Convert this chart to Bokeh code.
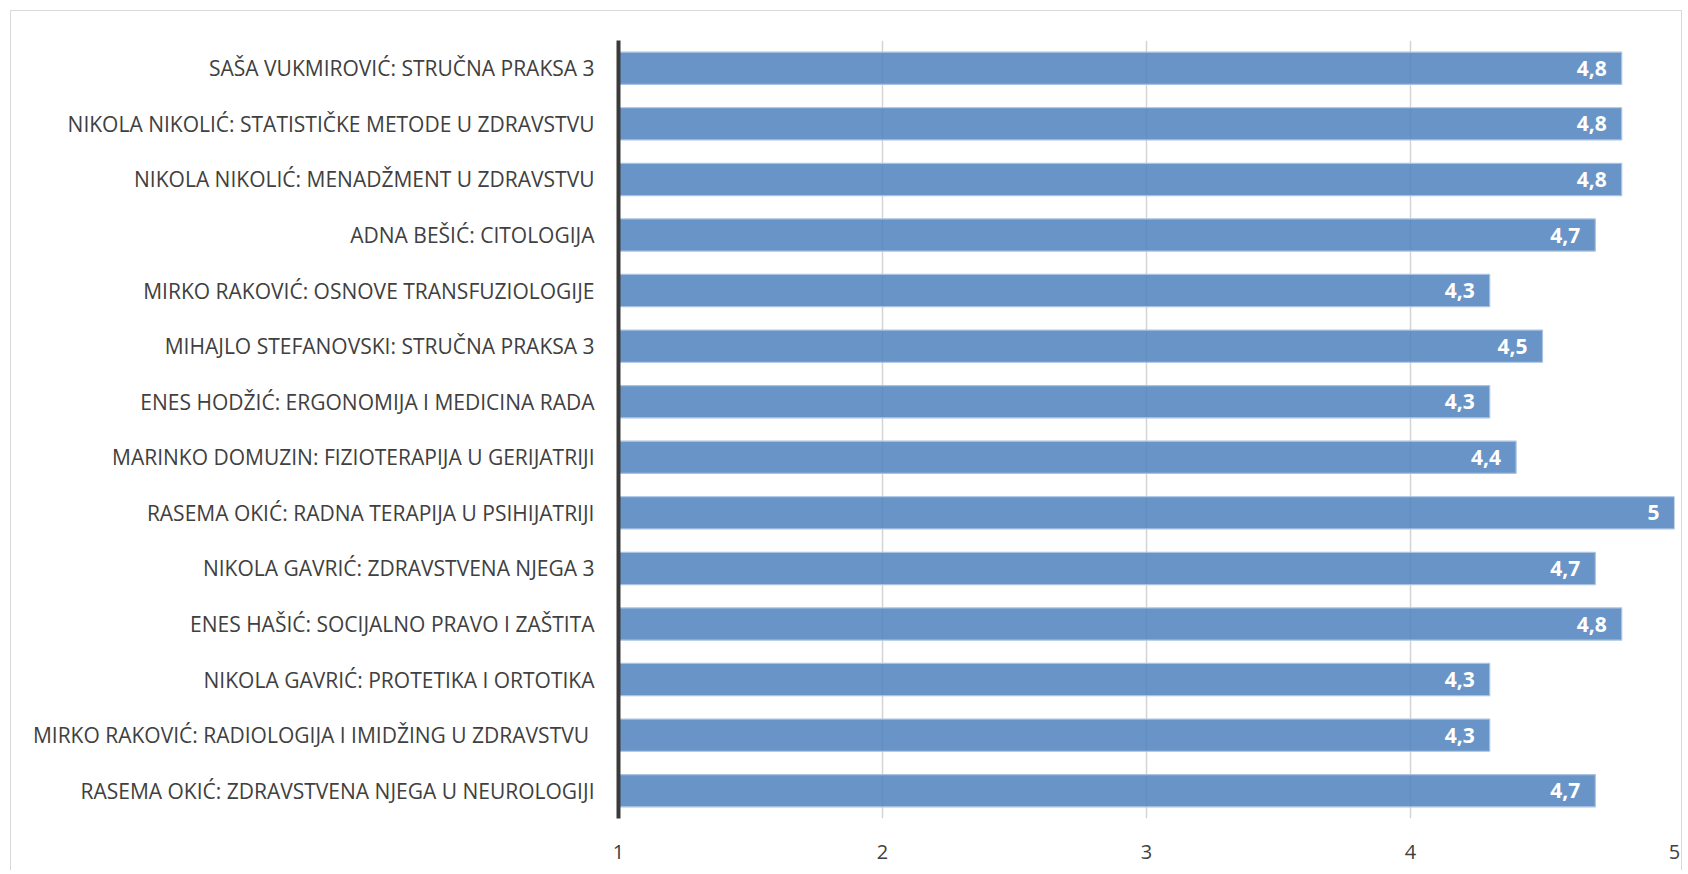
from bokeh.plotting import figure
from bokeh.models import ColumnDataSource, Range1d, FixedTicker, LabelSet
from bokeh.core.properties import value
from bokeh.embed import file_html
from bokeh.resources import INLINE

categories = [
    "SAŠA VUKMIROVIĆ: STRUČNA PRAKSA 3",
    "NIKOLA NIKOLIĆ: STATISTIČKE METODE U ZDRAVSTVU",
    "NIKOLA NIKOLIĆ: MENADŽMENT U ZDRAVSTVU",
    "ADNA BEŠIĆ: CITOLOGIJA",
    "MIRKO RAKOVIĆ: OSNOVE TRANSFUZIOLOGIJE",
    "MIHAJLO STEFANOVSKI: STRUČNA PRAKSA 3",
    "ENES HODŽIĆ: ERGONOMIJA I MEDICINA RADA",
    "MARINKO DOMUZIN: FIZIOTERAPIJA U GERIJATRIJI",
    "RASEMA OKIĆ: RADNA TERAPIJA U PSIHIJATRIJI",
    "NIKOLA GAVRIĆ: ZDRAVSTVENA NJEGA 3",
    "ENES HAŠIĆ: SOCIJALNO PRAVO I ZAŠTITA",
    "NIKOLA GAVRIĆ: PROTETIKA I ORTOTIKA",
    "MIRKO RAKOVIĆ: RADIOLOGIJA I IMIDŽING U ZDRAVSTVU ",
    "RASEMA OKIĆ: ZDRAVSTVENA NJEGA U NEUROLOGIJI",
]
scores = [4.8, 4.8, 4.8, 4.7, 4.3, 4.5, 4.3, 4.4, 5.0, 4.7, 4.8, 4.3, 4.3, 4.7]
x_ticks = [1, 2, 3, 4, 5]
x_min, x_max = 1, 5


def fmt(v):
    s = ("%g" % v)
    return s.replace(".", ",")


source = ColumnDataSource(dict(
    cat=categories,
    val=scores,
    left=[x_min] * len(scores),
    lab=[fmt(v) for v in scores],
))

FONT = "Open Sans"

p = figure(
    width=1672, height=860,
    y_range=list(reversed(categories)),
    x_range=Range1d(x_min, x_max),
    output_backend="svg", toolbar_location=None,
    min_border_left=607, min_border_right=9,
    min_border_top=29, min_border_bottom=53,
)
p.margin = (10, 0, 0, 10)
p.styles = {"border-top": "1px solid #d9d9d9", "border-left": "1px solid #d9d9d9",
            "border-right": "1px solid #d9d9d9"}
p.outline_line_color = None
p.background_fill_color = "white"
p.border_fill_color = "white"

p.hbar(y="cat", left="left", right="val", height=0.58, source=source,
       fill_color="#4F81BD", fill_alpha=0.85,
       line_color="#A9C2E2", line_width=1.2)

labels = LabelSet(y="cat", x="val", text="lab", source=source,
                  text_align="right", text_baseline="middle",
                  x_offset=-15, y_offset=0,
                  text_color="white", text_font_style="bold",
                  text_font=value(FONT), text_font_size="21px")
p.add_layout(labels)

# grid
p.ygrid.grid_line_color = None
p.xgrid.ticker = FixedTicker(ticks=x_ticks)
p.xgrid.grid_line_color = "#d4d4d4"
p.xgrid.grid_line_width = 1.5

# x axis
p.xaxis.ticker = FixedTicker(ticks=x_ticks)
p.xaxis.axis_line_color = None
p.xaxis.major_tick_line_color = None
p.xaxis.minor_tick_line_color = None
p.xaxis.major_label_text_font = FONT
p.xaxis.major_label_text_font_size = "20px"
p.xaxis.major_label_text_color = "#404040"
p.xaxis.major_label_standoff = 20

# y axis
p.yaxis.axis_line_color = "#3a3a3a"
p.yaxis.axis_line_width = 4
p.yaxis.major_tick_line_color = None
p.yaxis.minor_tick_line_color = None
p.yaxis.major_label_text_font = FONT
p.yaxis.major_label_text_font_size = "21px"
p.yaxis.major_label_text_color = "#404040"
p.yaxis.major_label_standoff = 18

open("out.html", "w").write(file_html(p, INLINE))
